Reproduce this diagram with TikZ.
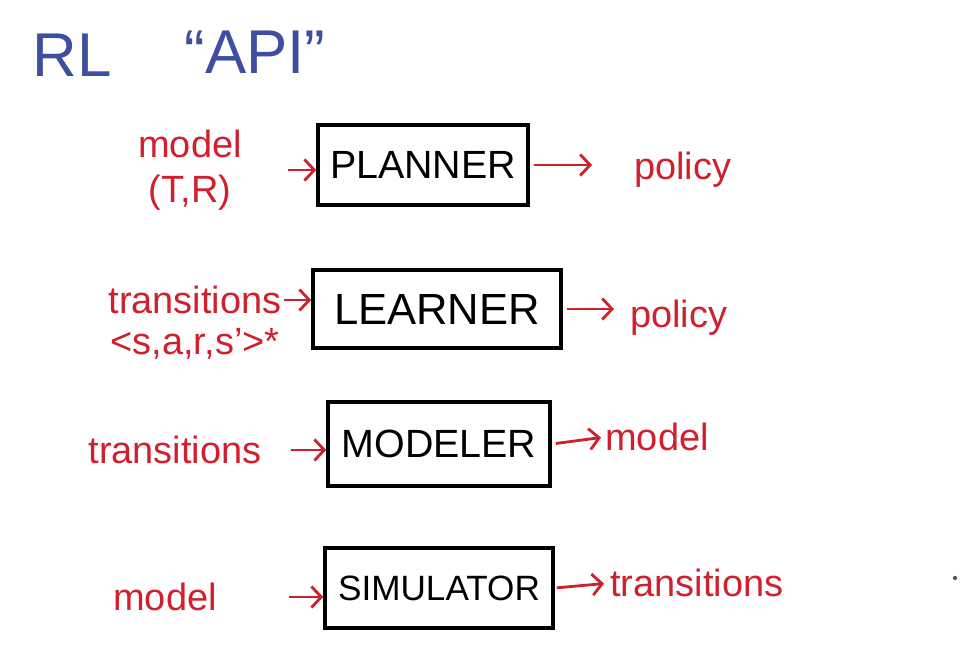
\documentclass[tikz,border=0pt]{standalone}
\usepackage{fontspec}
\setmainfont{Liberation Sans}
\usepackage{xcolor}
\usetikzlibrary{arrows.meta,positioning}
\definecolor{redink}{HTML}{D0202E}
\definecolor{blueink}{HTML}{3F4F9F}
\definecolor{dotgray}{HTML}{555555}
\tikzset{
  apibox/.style={draw=black,line width=2.5pt,inner sep=0pt,
    font=\fontsize{28}{34}\selectfont},
  redlabel/.style={text=redink,inner sep=0pt,align=center,
    font=\fontsize{27}{32}\selectfont},
  feed/.style={-{Straight Barb[length=7pt,width=15pt]},redink,line width=2pt},
}

\begin{document}
\begin{tikzpicture}[x=0.025cm,y=-0.025cm]
  \useasboundingbox (0,0) rectangle (972,659);
  % title
  \node[text=blueink,font=\fontsize{44}{50}\selectfont] (rl) at (72,55) {RL};
  \node[text=blueink,font=\fontsize{44}{50}\selectfont] (api) at (255,52) {``API''};
  % the four boxes
  \node[apibox,minimum width=5.25cm,minimum height=2cm] (planner) at (423,165) {PLANNER};
  \node[apibox,minimum width=6.2cm,minimum height=1.95cm,
    font=\fontsize{31}{36}\selectfont] (learner) at (437,309) {LEARNER};
  \node[apibox,minimum width=5.55cm,minimum height=2.1cm] (modeler) at (439,444) {MODELER};
  \node[apibox,minimum width=5.7cm,minimum height=2cm,
    font=\fontsize{25}{30}\selectfont] (simulator) at (439,588) {SIMULATOR};
  % inputs
  \node[redlabel] (plin) at (190,170) {model\\(T,R)};
  \node[redlabel] (lein) at (195,300) {transitions};
  \node[redlabel,below=0.35cm of lein] (leinb) {<s,a,r,s'>*};
  \node[redlabel] (moin) at (175,450) {transitions};
  \node[redlabel] (siin) at (165,597) {model};
  % outputs
  \node[redlabel,anchor=west] (plout) at (634,170) {policy};
  \node[redlabel,anchor=west] (leout) at (630,318) {policy};
  \node[redlabel,anchor=west] (moout) at (605,437) {model};
  \node[redlabel,anchor=west] (siout) at (610,583) {transitions};
  % arrows in
  \draw[feed,shorten <=1.15cm] (plin.east) -- (planner.west |- plin.east);
  \draw[feed,shorten <=0.05cm] (lein.east) -- (learner.west |- lein.east);
  \draw[feed,shorten <=0.72cm] (moin.east) -- (modeler.west |- moin.east);
  \draw[feed,shorten <=1.8cm] (siin.east) -- (simulator.west |- siin.east);
  % arrows out
  \draw[feed,shorten <=0.1cm,shorten >=1.05cm] (planner.east) -- (planner.east -| plout.west);
  \draw[feed,shorten <=0.1cm,shorten >=0.4cm] (learner.east) -- (learner.east -| leout.west);
  \draw[feed,shorten <=0.1cm,shorten >=0.1cm] (modeler.east) -- (moout.west);
  \draw[feed,shorten <=0.05cm,shorten >=0.15cm] (simulator.east) -- (siout.west);
  % stray dot
  \fill[dotgray] (955,578) circle (1.5pt);
\end{tikzpicture}
\end{document}
